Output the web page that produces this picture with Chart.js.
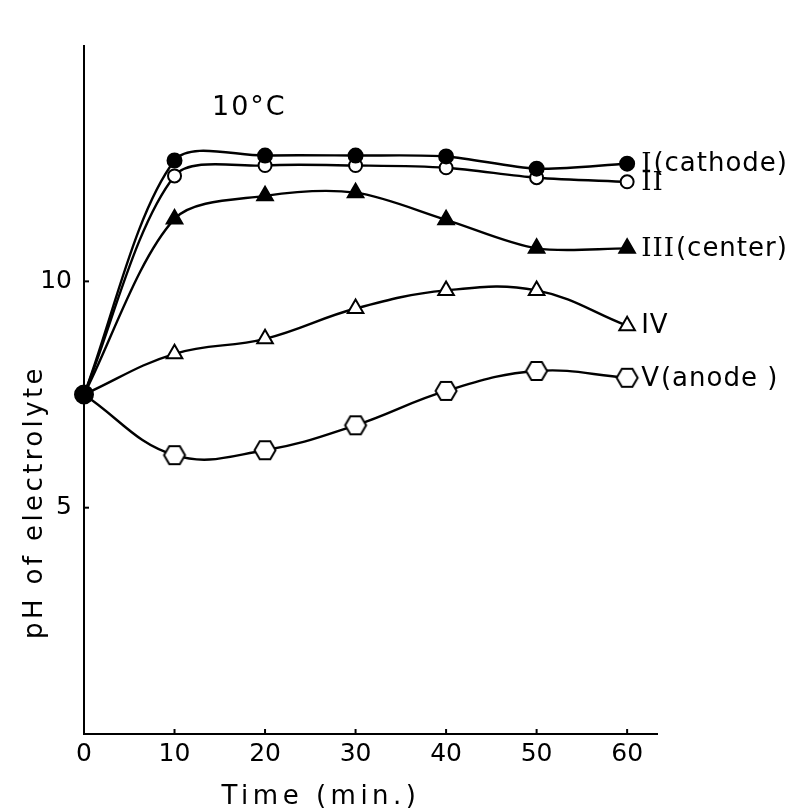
<!DOCTYPE html>
<html>
<head>
<meta charset="utf-8">
<script src="https://cdn.jsdelivr.net/npm/chart.js@4/dist/chart.umd.min.js"></script>
<style>
	html, body {margin: 0; background: #fff;}
</style>
</head>
<body>
<canvas id="ph" width="798" height="810"></canvas>
<script>
// time in minutes, pH
const times = [0, 10, 20, 30, 40, 50, 60];
const phI = [7.5, 12.67, 12.78, 12.78, 12.76, 12.49, 12.6];
const phII = [7.5, 12.33, 12.56, 12.56, 12.51, 12.29, 12.2];
const phIII = [7.5, 11.38, 11.89, 11.96, 11.36, 10.73, 10.73];
const phIV = [7.5, 8.4, 8.73, 9.4, 9.8, 9.8, 9.02];
const phV = [7.5, 6.16, 6.27, 6.82, 7.58, 8.02, 7.87];
const numerals = ['I', 'II', 'III', 'IV', 'V'];
const suffixes = ['(cathode)', '', '(center)', '', '(anode )'];
const xTicks = [0, 10, 20, 30, 40, 50, 60];
const yTicks = [5, 10];
const tempLabel = '10°C';
const xTitle = 'Time (min.)';
const yTitle = 'pH of electrolyte';

const FONT = '"DejaVu Sans", sans-serif';

//hexagon marker for the anode series, Chart.js has none built in
const hexagon = (() => {
	let c = document.createElement('canvas');
	c.width = 26; c.height = 24;
	let g = c.getContext('2d');
	g.beginPath();
	for (let k = 0; k < 6; k++) {
		let a = Math.PI / 3 * k;
		let px = 13 + 10.5 * Math.cos(a), py = 12 + 10.5 * Math.sin(a);
		k ? g.lineTo(px, py) : g.moveTo(px, py);
	}
	g.closePath();
	g.fillStyle = '#fff';
	g.fill();
	g.lineWidth = 2;
	g.strokeStyle = '#000';
	g.stroke();
	return c;
})();

const toXY = vals => vals.map((v, i) => ({x: times[i], y: v}));
//start point is shared, only the first series draws the big dot
const firstHidden = r => times.map((t, i) => i === 0 ? 0 : r);

const line = (data, extra) => Object.assign({
	data: toXY(data),
	borderColor: '#000',
	borderWidth: 2.4,
	pointBorderColor: '#000',
	pointBorderWidth: 2,
	pointHoverRadius: 0,
	tension: 0.3,
	clip: false
}, extra);

const datasets = [
	line(phI, {pointStyle: 'circle', pointBackgroundColor: '#000', pointRadius: times.map((t, i) => i === 0 ? 9 : 7)}),
	line(phII, {pointStyle: 'circle', pointBackgroundColor: '#fff', pointRadius: firstHidden(6.5)}),
	line(phIII, {pointStyle: 'triangle', pointBackgroundColor: '#000', pointRadius: firstHidden(9)}),
	line(phIV, {pointStyle: 'triangle', pointBackgroundColor: '#fff', pointRadius: firstHidden(9), tension: 0.4}),
	line(phV, {pointStyle: times.map((t, i) => i === 0 ? 'circle' : hexagon), pointBackgroundColor: '#fff', pointRadius: firstHidden(11), tension: 0.4})
];

const annotate = {
	id: 'annotate',
	afterDraw(chart) {
		let {ctx, scales: {x, y}} = chart;
		ctx.save();
		ctx.strokeStyle = '#000';
		ctx.lineWidth = 2;

		//short ticks pointing into the plot
		xTicks.slice(1).forEach(t => {
			let px = x.getPixelForValue(t);
			ctx.beginPath(); ctx.moveTo(px, y.bottom); ctx.lineTo(px, y.bottom - 5); ctx.stroke();
		});
		yTicks.forEach(t => {
			let py = y.getPixelForValue(t);
			ctx.beginPath(); ctx.moveTo(x.left, py); ctx.lineTo(x.left + 5, py); ctx.stroke();
		});

		ctx.fillStyle = '#000';
		ctx.textBaseline = 'middle';
		ctx.textAlign = 'left';
		ctx.letterSpacing = '1px';

		//series names next to their last point
		chart.data.datasets.forEach((ds, i) => {
			let last = ds.data[ds.data.length - 1];
			let px = x.getPixelForValue(last.x) + 14;
			let py = y.getPixelForValue(last.y) + 1;
			ctx.font = (i < 3 ? '26px "DejaVu Serif", serif' : '26px ' + FONT);
			ctx.fillText(numerals[i], px, py);
			let w = ctx.measureText(numerals[i]).width;
			ctx.font = '26px ' + FONT;
			ctx.fillText(suffixes[i], px + w + 1, py);
		});

		ctx.letterSpacing = '2px';
		ctx.font = '27px ' + FONT;
		ctx.fillText(tempLabel, 212, 108);

		ctx.textAlign = 'center';
		ctx.font = '26px ' + FONT;
		ctx.letterSpacing = '4.5px';
		ctx.fillText(xTitle, 321, 797);

		ctx.letterSpacing = '3.4px';
		ctx.translate(35, 502);
		ctx.rotate(-Math.PI / 2);
		ctx.fillText(yTitle, 0, 0);
		ctx.restore();
	}
};

new Chart(document.querySelector('#ph'), {
	type: 'line',
	data: {datasets: datasets},
	plugins: [annotate],
	options: {
		responsive: false,
		animation: false,
		events: [],
		layout: {padding: {top: 46, right: 141, left: 0, bottom: 0}},
		plugins: {legend: {display: false}, tooltip: {enabled: false}},
		scales: {
			x: {
				type: 'linear',
				min: 0,
				max: 63.3,
				afterBuildTicks: s => { s.ticks = xTicks.map(v => ({value: v})); },
				afterFit: s => { s.height = 76; },
				grid: {drawOnChartArea: false, drawTicks: false},
				border: {color: '#000', width: 2},
				ticks: {color: '#000', padding: 5, font: {family: FONT, size: 25}}
			},
			y: {
				min: 0,
				max: 15.2,
				afterBuildTicks: s => { s.ticks = yTicks.map(v => ({value: v})); },
				afterFit: s => { s.width = 84; },
				grid: {drawOnChartArea: false, drawTicks: false},
				border: {color: '#000', width: 2},
				ticks: {color: '#000', padding: 12, font: {family: FONT, size: 25}}
			}
		}
	}
});
</script>
</body>
</html>
